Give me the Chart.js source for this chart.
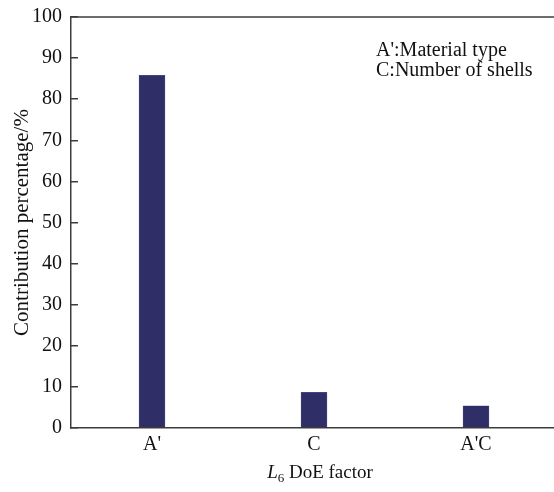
<!DOCTYPE html>
<html>
<head>
<meta charset="utf-8">
<script src="https://cdn.jsdelivr.net/npm/chart.js@4/dist/chart.umd.min.js"></script>
<style>
  html, body { margin: 0; padding: 0; background: #fff; overflow: hidden; }
  #wrap { width: 570px; height: 492px; }
</style>
</head>
<body>
<div id="wrap"><canvas id="c" width="570" height="492"></canvas></div>
<script>
const categories = ["A'", "C", "A'C"];
const contribution = [85.8, 8.7, 5.4];
const yTicks = [0, 10, 20, 30, 40, 50, 60, 70, 80, 90, 100];
const legendLines = ["A':Material type", "C:Number of shells"];
const yTitle = "Contribution percentage/%";

const SERIF = "'Liberation Serif', 'Times New Roman', serif";
const AXIS = '#3c3c3c';

const extras = {
  id: 'extras',
  afterDraw(chart) {
    const ctx = chart.ctx;
    const a = chart.chartArea;
    ctx.save();
    // top frame line
    ctx.strokeStyle = AXIS;
    ctx.lineWidth = 1.5;
    ctx.beginPath();
    ctx.moveTo(a.left, a.top);
    ctx.lineTo(a.right, a.top);
    ctx.stroke();
    // annotation text
    ctx.fillStyle = '#111';
    ctx.font = '20px ' + SERIF;
    ctx.textBaseline = 'middle';
    ctx.textAlign = 'left';
    legendLines.forEach((t, i) => ctx.fillText(t, 376, 51 + i * 20));
    // x axis title with italic L and subscript 6
    const cx = 320;
    const by = 478;
    ctx.textBaseline = 'alphabetic';
    ctx.font = 'italic 19px ' + SERIF;
    const wL = ctx.measureText('L').width;
    ctx.font = '13px ' + SERIF;
    const w6 = ctx.measureText('6').width;
    ctx.font = '19px ' + SERIF;
    const rest = ' DoE factor';
    const wR = ctx.measureText(rest).width;
    let x = cx - (wL + w6 + wR) / 2;
    ctx.font = 'italic 19px ' + SERIF;
    ctx.fillText('L', x, by); x += wL;
    ctx.font = '13px ' + SERIF;
    ctx.fillText('6', x, by + 4); x += w6;
    ctx.font = '19px ' + SERIF;
    ctx.fillText(rest, x, by);
    ctx.restore();
  }
};

new Chart(document.getElementById('c'), {
  type: 'bar',
  data: {
    labels: categories,
    datasets: [{
      data: contribution,
      backgroundColor: '#2f2e66',
      borderColor: '#5a5a92',
      borderWidth: 0.5,
      barThickness: 26
    }]
  },
  options: {
    responsive: false,
    animation: false,
    devicePixelRatio: 1,
    layout: { padding: { left: 0, top: 17, right: 13, bottom: 0 } },
    plugins: { legend: { display: false }, tooltip: { enabled: false } },
    scales: {
      x: {
        grid: { display: false, drawTicks: false },
        border: { display: true, color: AXIS, width: 1.5 },
        ticks: { color: '#111', font: { family: SERIF, size: 20 }, padding: 5 },
        afterFit(s) { s.height = 64; s.paddingLeft = 0; s.paddingRight = 0; }
      },
      y: {
        min: 0, max: 100,
        afterBuildTicks(s) { s.ticks = yTicks.map(v => ({ value: v })); },
        grid: { drawOnChartArea: false, drawTicks: true, tickLength: -7, color: AXIS, lineWidth: 1.5 },
        border: { display: true, color: AXIS, width: 1.5 },
        ticks: { color: '#111', font: { family: SERIF, size: 20 }, padding: 16 },
        title: { display: true, text: yTitle, color: '#111', font: { family: SERIF, size: 21 }, padding: { top: 10, bottom: 0 } },
        afterFit(s) { s.width = 71; s.paddingTop = 0; s.paddingBottom = 0; }
      }
    }
  },
  plugins: [extras]
});
</script>
</body>
</html>
